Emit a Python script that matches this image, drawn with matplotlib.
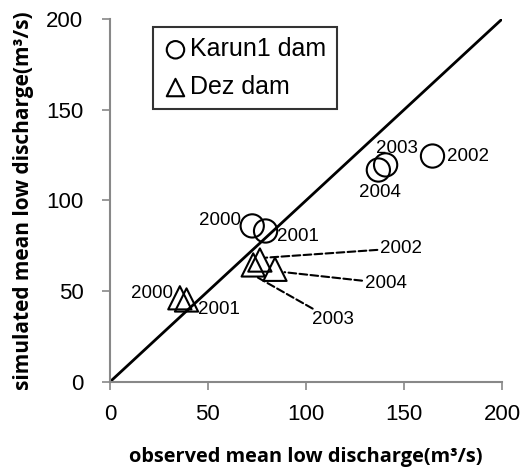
import matplotlib.pyplot as plt

# observed / simulated mean low discharge (m3/s)
years = ["2000", "2001", "2002", "2003", "2004"]
karun_obs = [72.6, 79.4, 164.5, 140.6, 136.9]
karun_sim = [86.0, 83.2, 124.5, 119.6, 116.8]
dez_obs = [35.7, 39.1, 76.5, 73.1, 84.2]
dez_sim = [46.4, 45.2, 67.2, 64.5, 62.1]

plt.rcParams['font.family'] = ['Liberation Sans', 'DejaVu Sans']

fig = plt.figure(figsize=(5.28, 4.69), dpi=100)
ax = fig.add_axes([0.208, 0.1855, 0.743, 0.774])

ax.plot([0, 200], [0, 200], color='black', lw=2, zorder=1)

ax.scatter(karun_obs, karun_sim, s=280, marker='o', facecolors='none',
           edgecolors='black', linewidths=1.5, zorder=3, label='Karun1 dam')
ax.scatter(dez_obs, dez_sim, s=280, marker='^', facecolors='none',
           edgecolors='black', linewidths=1.5, zorder=3, label='Dez dam')

fs = 13.5
# Karun1 labels
ax.text(66.7, 88.9, years[0], fontsize=fs, ha='right', va='center')
ax.text(85.0, 80.4, years[1], fontsize=fs, ha='left', va='center')
ax.text(171.8, 124.5, years[2], fontsize=fs, ha='left', va='center')
ax.text(146.3, 128.7, years[3], fontsize=fs, ha='center', va='center')
ax.text(137.8, 104.3, years[4], fontsize=fs, ha='center', va='center')

# Dez labels, the crowded ones pulled out with dashed leaders
ax.text(32.3, 48.9, years[0], fontsize=fs, ha='right', va='center')
ax.text(45.0, 39.7, years[1], fontsize=fs, ha='left', va='center')
dash = dict(arrowstyle='-', linestyle='--', color='black', lw=1.5,
            shrinkA=0, shrinkB=0)
ax.annotate(years[2], xy=(79.5, 68.5), xytext=(137.8, 73.7), fontsize=fs,
            ha='left', va='center', arrowprops=dash)
ax.annotate(years[4], xy=(89.0, 60.5), xytext=(130.0, 54.4), fontsize=fs,
            ha='left', va='center', arrowprops=dash)
ax.annotate(years[3], xy=(75.5, 57.5), xytext=(102.9, 34.2), fontsize=fs,
            ha='left', va='center', arrowprops=dash)

ax.set_xlim(0, 200)
ax.set_ylim(0, 200)
ax.set_xticks([0, 50, 100, 150, 200])
ax.set_yticks([0, 50, 100, 150, 200])
ax.tick_params(labelsize=16, length=6, color='#888888', width=1.2)
ax.tick_params(axis='x', pad=10)
ax.tick_params(axis='y', pad=13)
for side in ['top', 'right']:
    ax.spines[side].set_visible(False)
for side in ['left', 'bottom']:
    ax.spines[side].set_color('#888888')
    ax.spines[side].set_linewidth(1.5)

ax.set_xlabel("observed mean low discharge(m³/s)", fontsize=14.4,
              fontweight='bold', family=['Open Sans', 'DejaVu Sans'], labelpad=16)
ax.set_ylabel("simulated mean low discharge(m³/s)", fontsize=15,
              fontweight='bold', family=['Open Sans', 'DejaVu Sans'], labelpad=9)

leg = ax.legend(loc='upper left', bbox_to_anchor=(0.11, 0.977), borderaxespad=0,
                fontsize=18, frameon=True, fancybox=False, markerscale=0.75,
                handletextpad=0.1, handlelength=1.0, borderpad=0.4,
                labelspacing=0.55)
leg.get_frame().set_edgecolor('black')
leg.get_frame().set_linewidth(1.5)

fig.savefig("out.png", dpi=100)
